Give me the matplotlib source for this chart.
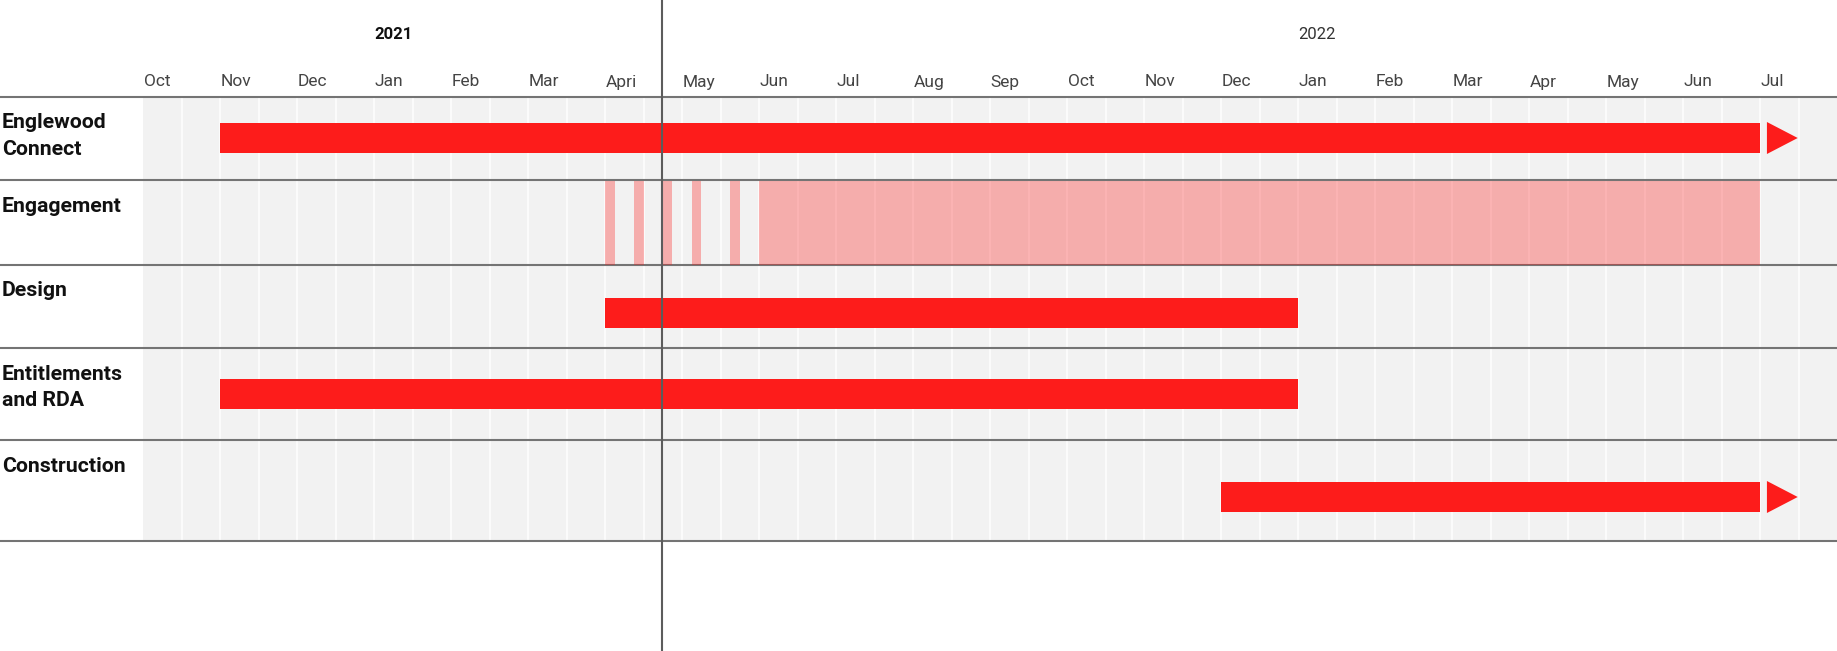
import numpy as np
import matplotlib.pyplot as plt
import matplotlib.transforms as mtransforms
from matplotlib.patches import Polygon

# ── 1. Data ────────────────────────────────
# x positions are in months counted from Oct 2020
month_labels = ["Oct", "Nov", "Dec", "Jan", "Feb", "Mar", "Apri", "May",
                "Jun", "Jul", "Aug", "Sep", "Oct", "Nov", "Dec", "Jan",
                "Feb", "Mar", "Apr", "May", "Jun", "Jul"]
year_labels = ["2021", "2022"]
year_starts = [3, 15]

tasks = ["Englewood\nConnect", "Engagement", "Design",
         "Entitlements\nand RDA", "Construction"]
bar_rows = [0, 2, 3, 4]
bar_start = [1.0, 6.0, 1.0, 14.0]
bar_end = [21.0, 15.0, 15.0, 21.0]
bar_continues = [True, False, False, True]

engagement_start = [6.0, 6.375, 6.75, 7.125, 7.625, 8.0]
engagement_end = [6.125, 6.5, 6.875, 7.25, 7.75, 21.0]

today = 6.74

# ── 2. Layout (pixels, top = 0) ────────────
W, H = 1837, 651
left_px = 143
row_edges = [96.5, 180, 264.5, 348, 440, 541]
bar_centers = [138, 313, 394, 497]
bar_h = 30

red = "#fd1c1b"
gray_bg = "#f2f2f2"
line_col = "#747474"

plt.rcParams["font.family"] = ["Roboto", "DejaVu Sans"]

fig = plt.figure(figsize=(W / 100, H / 100), dpi=100)
ax = fig.add_axes([left_px / W, 0, 1 - left_px / W, 1])
ax.set_xlim(0, 22)
ax.set_ylim(H, 0)
ax.axis("off")
blend = mtransforms.blended_transform_factory(fig.transFigure, ax.transData)

# ── 3. Background + grid ───────────────────
ax.axhspan(row_edges[-1], row_edges[0], color=gray_bg, zorder=0, lw=0)
half_months = np.arange(0.5, 22, 0.5)
ax.vlines(half_months, row_edges[0], row_edges[-1], color="white",
          lw=1.1, zorder=1)
ax.hlines(row_edges, 0, 1, transform=blend, color=line_col, lw=1.5,
          zorder=2, clip_on=False)

# ── 4. Header ──────────────────────────────
for i, m in enumerate(month_labels):
    ax.text(i + 0.01, 86.5, m, ha="left", va="baseline", fontsize=12.5,
            fontweight="normal", color="#444444")
for lab, x in zip(year_labels, year_starts):
    ax.text(x, 39, lab, ha="left", va="baseline", fontsize=12,
            fontweight="bold" if lab == "2021" else "normal",
            color="#111111" if lab == "2021" else "#333333")

# ── 5. Row labels ──────────────────────────
for i, t in enumerate(tasks):
    ax.text(2 / W, row_edges[i] + 16.5, t, transform=blend, ha="left",
            va="top", fontsize=15.3, fontweight="bold", color="#111111",
            linespacing=1.52)

# ── 6. Bars ────────────────────────────────
for r, s, e, c, yc in zip(bar_rows, bar_start, bar_end, bar_continues,
                          bar_centers):
    ax.barh(yc, e - s, left=s, height=bar_h, color=red, lw=0, zorder=3)
    if c:
        tri = Polygon([[e + 0.09, yc - 16], [e + 0.09, yc + 16],
                       [e + 0.49, yc]], closed=True, color=red, lw=0,
                      zorder=3)
        ax.add_patch(tri)

# engagement blocks fill the whole row
for s, e in zip(engagement_start, engagement_end):
    ax.fill_between([s, e], row_edges[1] + 0.5, row_edges[2] + 0.5,
                    color=red, alpha=0.32, lw=0, zorder=3)

# ── 7. Today marker ────────────────────────
ax.vlines(today, 0, H, color="#5c5c5c", lw=1.5, zorder=5)

plt.savefig("out.png", dpi=100)
